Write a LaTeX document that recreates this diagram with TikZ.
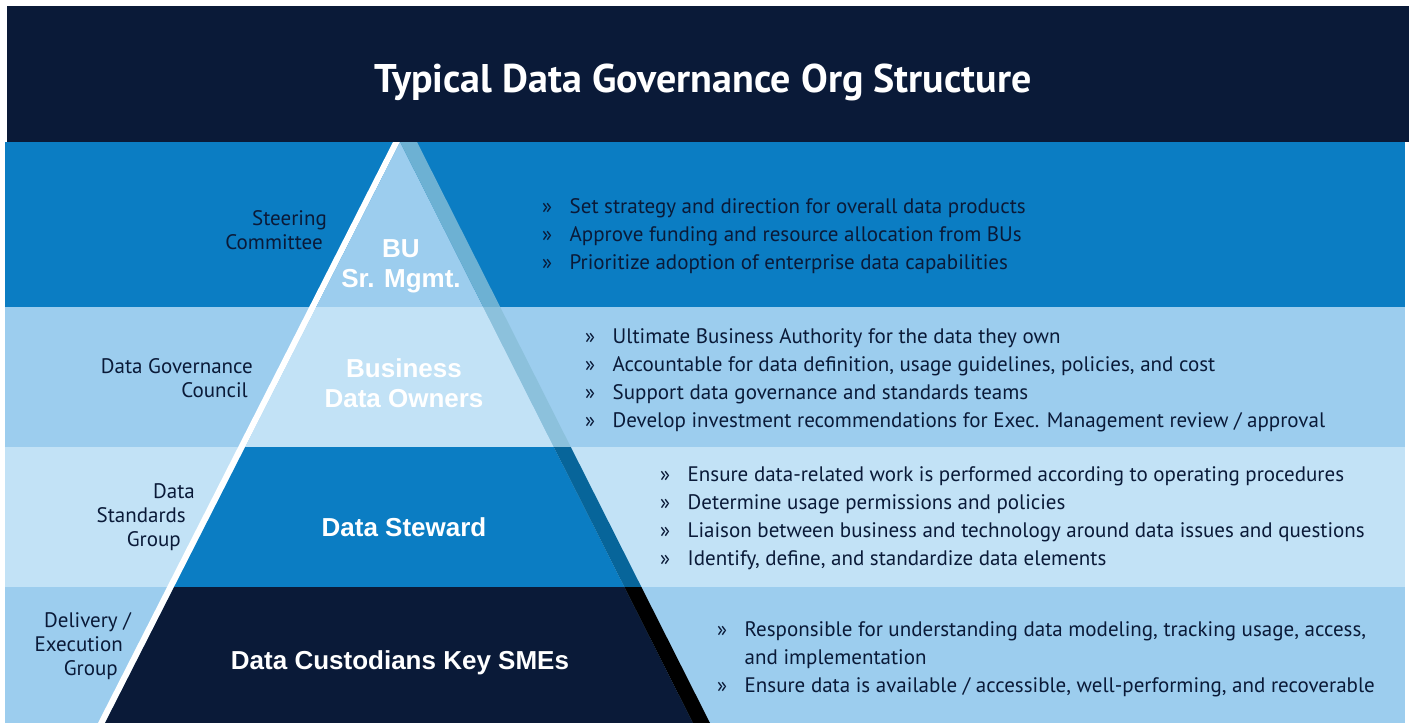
\documentclass[tikz,border=0pt]{standalone}
\usepackage{fontspec}
\setmainfont{PT Sans}
\newfontfamily\pyrfont{Liberation Sans}
\usepackage{xcolor}
\usetikzlibrary{positioning}
\definecolor{navy}{HTML}{0A1A38}
\definecolor{midblue}{HTML}{0B7DC3}
\definecolor{lightblue}{HTML}{9CCDEE}
\definecolor{paleblue}{HTML}{C2E2F6}
\definecolor{shadeA}{HTML}{6DB1D3}
\definecolor{shadeB}{HTML}{8CC1DC}
\definecolor{shadeC}{HTML}{07659A}
\newcommand{\bul}{\makebox[27.5pt][l]{»}}
\newcommand{\inset}[1]{\hbox to #1{}}

\begin{document}
\begin{tikzpicture}[x=1pt,y=-1pt,
  grouplabel/.style={anchor=east, align=right, inner sep=0pt, text=navy, font=\fontsize{21}{24}\selectfont},
  layerlabel/.style={align=center, inner sep=0pt, text=white, font=\pyrfont\bfseries\fontsize{26}{30}\selectfont},
  duties/.style={anchor=west, align=left, inner sep=0pt, text=navy, font=\fontsize{21}{28}\selectfont}]
\useasboundingbox (0,0) rectangle (1409,723);
\fill[navy] (7,6) rectangle (1409,142);
\fill[midblue] (5,142) rectangle (1405,307);
\fill[lightblue] (5,307) rectangle (1405,447);
\fill[paleblue] (5,447) rectangle (1405,587);
\fill[lightblue] (5,587) rectangle (1405,723);
\fill[white] (393,142) -- (400,142) -- (105,723) -- (98,723) -- cycle;
\fill[lightblue] (400,142) -- (483.2,307) -- (316.2,307) -- cycle;
\fill[shadeA] (400,142) -- (417,142) -- (500.2,307) -- (483.2,307) -- cycle;
\fill[paleblue] (316.2,307) -- (483.2,307) -- (553.8,447) -- (245.2,447) -- cycle;
\fill[shadeB] (483.2,307) -- (500.2,307) -- (570.8,447) -- (553.8,447) -- cycle;
\fill[midblue] (245.2,447) -- (553.8,447) -- (624.4,587) -- (174.1,587) -- cycle;
\fill[shadeC] (553.8,447) -- (570.8,447) -- (641.4,587) -- (624.4,587) -- cycle;
\fill[navy] (174.1,587) -- (624.4,587) -- (693,723) -- (105,723) -- cycle;
\fill[black] (624.4,587) -- (641.4,587) -- (710,723) -- (693,723) -- cycle;
\node[anchor=base, text=white, font=\bfseries\fontsize{40}{46}\selectfont] (title) at (703,92) {Typical Data Governance Org Structure};
\node[grouplabel] (steering) at (327,230) {Steering\\Committee\inset{4pt}};
\node[grouplabel] (council) at (253,378) {Data Governance\\Council\inset{5pt}};
\node[grouplabel] (standards) at (195,517) {Data\\Standards\inset{9pt}\\Group\inset{14pt}};
\node[grouplabel] (delivery) at (131,646) {Delivery /\\Execution\inset{8pt}\\Group\inset{13pt}};
\node[layerlabel] (mgmt) at (401,266.5) {BU\\Sr. Mgmt.};
\node[layerlabel] (owners) at (404,383) {Business\\Data Owners};
\node[layerlabel] (steward) at (404,527) {Data Steward};
\node[layerlabel] (custodians) at (400,663) {Data Custodians Key SMEs};
\node[duties] (mgmtduties) at (542,236) {\bul Set strategy and direction for overall data products\\
\bul Approve funding and resource allocation from BUs\\
\bul Prioritize adoption of enterprise data capabilities};
\node[duties] (ownerduties) at (585,380) {\bul Ultimate Business Authority for the data they own\\
\bul Accountable for data definition, usage guidelines, policies, and cost\\
\bul Support data governance and standards teams\\
\bul Develop investment recommendations for Exec. Management review / approval};
\node[duties] (stewardduties) at (660,518) {\bul Ensure data-related work is performed according to operating procedures\\
\bul Determine usage permissions and policies\\
\bul Liaison between business and technology around data issues and questions\\
\bul Identify, define, and standardize data elements};
\node[duties] (custodianduties) at (717,659) {\bul Responsible for understanding data modeling, tracking usage, access,\\
\makebox[27.5pt]{}and implementation\\
\bul Ensure data is available / accessible, well-performing, and recoverable};
\end{tikzpicture}
\end{document}
